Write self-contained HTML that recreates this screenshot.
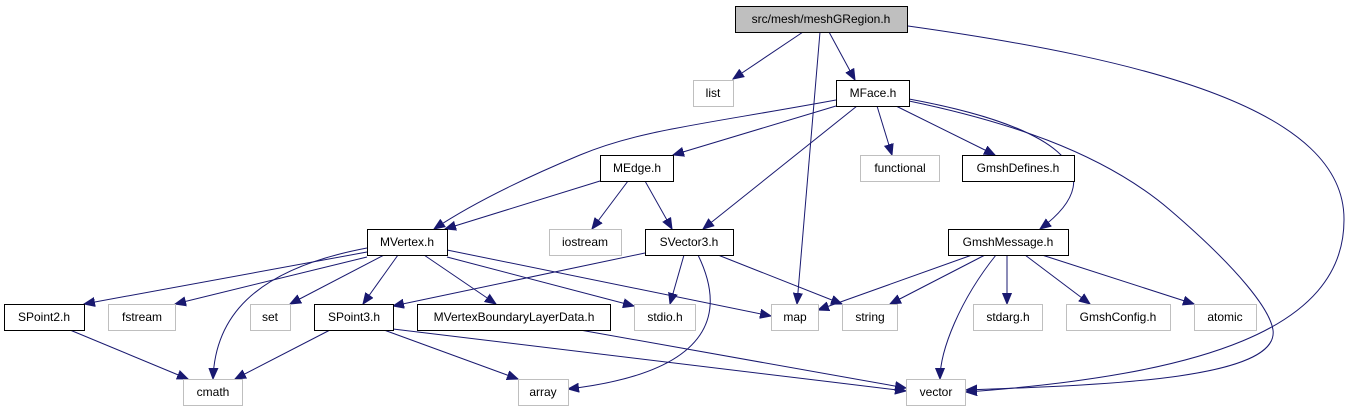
<!DOCTYPE html>
<html><head><meta charset="utf-8"><style>
body{margin:0;background:#fff}
svg{display:block}
text{font-family:"Liberation Sans",sans-serif;font-size:12px;fill:#000}
.b{fill:#fff;stroke:#000;stroke-width:1}
.g{fill:#fff;stroke:#bfbfbf;stroke-width:1}
.e{fill:none;stroke:#191970;stroke-width:1}
</style></head><body>
<svg width="1346" height="411" viewBox="0 0 1346 411">
<defs><marker id="a" markerUnits="userSpaceOnUse" markerWidth="12" markerHeight="10" refX="11" refY="5" orient="auto"><path d="M0,0.5 L11,5 L0,9.5 z" fill="#191970" stroke="#191970"/></marker></defs>
<g class="e" marker-end="url(#a)">
<path d="M803,32 L733,79"/>
<path d="M820,32 L797,304"/>
<path d="M829,32 L855,80"/>
<path d="M908,26 C1150,60 1345,110 1344,220 C1344,330 1200,375 966,392"/>
<path d="M836,100 C700,125 640,130 580,155 C520,180 470,205 434,229"/>
<path d="M836,106 L673,155"/>
<path d="M857,106 L703,229"/>
<path d="M877,106 L892,155"/>
<path d="M896,106 L995,155"/>
<path d="M909,99 C1050,125 1120,170 1040,229"/>
<path d="M909,101 C1000,120 1100,150 1170,210 C1240,270 1270,310 1273,330 C1280,380 1100,385 966,390"/>
<path d="M600,181 L445,229"/>
<path d="M628,181 L592,229"/>
<path d="M645,181 L672,229"/>
<path d="M367,252 L84,304"/>
<path d="M367,257 L175,304"/>
<path d="M367,248 C250,270 215,320 213,379"/>
<path d="M384,255 L290,304"/>
<path d="M398,255 L363,304"/>
<path d="M424,255 L496,304"/>
<path d="M447,257 L634,306"/>
<path d="M447,250 L771,316"/>
<path d="M645,253 L393,306"/>
<path d="M684,255 L670,304"/>
<path d="M718,255 L842,304"/>
<path d="M698,255 C720,300 730,370 568,389"/>
<path d="M972,255 L818,310"/>
<path d="M985,255 L890,304"/>
<path d="M996,255 C960,300 940,350 940,379"/>
<path d="M1007,255 L1007,304"/>
<path d="M1025,255 L1090,304"/>
<path d="M1042,255 L1194,304"/>
<path d="M70,330 L188,379"/>
<path d="M330,330 L235,379"/>
<path d="M384,330 L518,379"/>
<path d="M393,329 L906,391"/>
<path d="M580,330 L906,388"/>
</g>
<rect x="735.5" y="6.5" width="172" height="26" fill="#bfbfbf" stroke="#000"/><text x="821" y="23" text-anchor="middle">src/mesh/meshGRegion.h</text>
<rect class="g" x="693.5" y="80.5" width="40" height="26"/><text x="713" y="97" text-anchor="middle">list</text>
<rect class="b" x="836.5" y="80.5" width="73" height="26"/><text x="873" y="97" text-anchor="middle">MFace.h</text>
<rect class="g" x="860.5" y="155.5" width="79" height="26"/><text x="900" y="172" text-anchor="middle">functional</text>
<rect class="b" x="962.5" y="155.5" width="112" height="26"/><text x="1018" y="172" text-anchor="middle">GmshDefines.h</text>
<rect class="b" x="600.5" y="155.5" width="73" height="26"/><text x="637" y="172" text-anchor="middle">MEdge.h</text>
<rect class="b" x="367.5" y="229.5" width="80" height="26"/><text x="407" y="246" text-anchor="middle">MVertex.h</text>
<rect class="g" x="549.5" y="229.5" width="72" height="26"/><text x="585" y="246" text-anchor="middle">iostream</text>
<rect class="b" x="645.5" y="229.5" width="88" height="26"/><text x="689" y="246" text-anchor="middle">SVector3.h</text>
<rect class="b" x="948.5" y="229.5" width="120" height="26"/><text x="1008" y="246" text-anchor="middle">GmshMessage.h</text>
<rect class="b" x="4.5" y="304.5" width="80" height="26"/><text x="44" y="321" text-anchor="middle">SPoint2.h</text>
<rect class="g" x="108.5" y="304.5" width="67" height="26"/><text x="142" y="321" text-anchor="middle">fstream</text>
<rect class="g" x="250.5" y="304.5" width="40" height="26"/><text x="270" y="321" text-anchor="middle">set</text>
<rect class="b" x="314.5" y="304.5" width="79" height="26"/><text x="354" y="321" text-anchor="middle">SPoint3.h</text>
<rect class="b" x="417.5" y="304.5" width="193" height="26"/><text x="514" y="321" text-anchor="middle">MVertexBoundaryLayerData.h</text>
<rect class="g" x="634.5" y="304.5" width="61" height="26"/><text x="665" y="321" text-anchor="middle">stdio.h</text>
<rect class="g" x="771.5" y="304.5" width="47" height="26"/><text x="795" y="321" text-anchor="middle">map</text>
<rect class="g" x="842.5" y="304.5" width="55" height="26"/><text x="870" y="321" text-anchor="middle">string</text>
<rect class="g" x="973.5" y="304.5" width="69" height="26"/><text x="1008" y="321" text-anchor="middle">stdarg.h</text>
<rect class="g" x="1066.5" y="304.5" width="104" height="26"/><text x="1118" y="321" text-anchor="middle">GmshConfig.h</text>
<rect class="g" x="1194.5" y="304.5" width="62" height="26"/><text x="1225" y="321" text-anchor="middle">atomic</text>
<rect class="g" x="183.5" y="379.5" width="59" height="26"/><text x="213" y="396" text-anchor="middle">cmath</text>
<rect class="g" x="518.5" y="379.5" width="50" height="26"/><text x="543" y="396" text-anchor="middle">array</text>
<rect class="g" x="906.5" y="379.5" width="59" height="26"/><text x="936" y="396" text-anchor="middle">vector</text>
</svg>
</body></html>
